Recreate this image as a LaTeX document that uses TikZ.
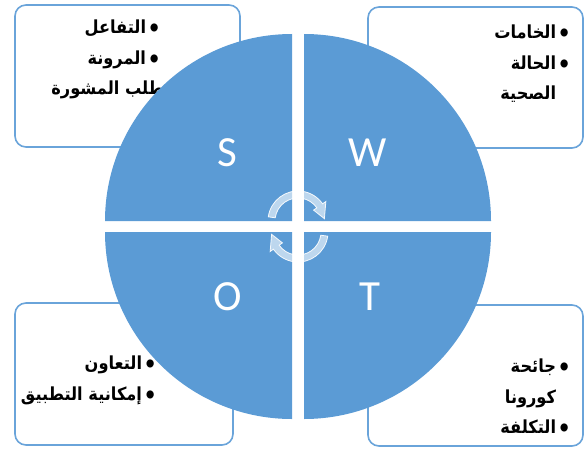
\documentclass[tikz,border=0pt]{standalone}
\usepackage{fontspec}
\setmainfont{Carlito}
\newfontfamily\arabicfont[Script=Arabic, FakeStretch=0.9]{DejaVu Sans}
\TeXXeTstate=1
\usetikzlibrary{positioning}
\definecolor{swotblue}{RGB}{91,155,213}
\definecolor{boxline}{RGB}{106,164,218}
\tikzset{
    quad/.style={fill=swotblue},
    letter/.style={text=white, inner sep=0pt, font=\fontsize{43}{43}\selectfont},
    box/.style={draw=boxline, line width=1.6pt, rounded corners=11pt, fill=white, inner sep=0pt},
    items/.style={align=right, inner sep=0pt, font=\arabicfont\bfseries\fontsize{18}{30.5}\selectfont},
    turnarrow/.style={fill=white, fill opacity=0.6, draw=white, draw opacity=0.9, line width=0.8pt}
}
\newcommand{\bul}{\raisebox{-3pt}{\fontsize{23}{23}\selectfont•}\kern1.5pt}

\begin{document}
\begin{tikzpicture}[x=1pt, y=1pt]
\useasboundingbox (0,0) rectangle (585,448);

% boxes behind the circle
\node[box, minimum width=225pt, minimum height=142pt] (boxs) at (127.5,372) {};
\node[box, minimum width=215pt, minimum height=141pt] (boxw) at (475.5,370.5) {};
\node[box, minimum width=218pt, minimum height=142pt] (boxo) at (124,74) {};
\node[box, minimum width=215pt, minimum height=141pt] (boxt) at (475.5,72.5) {};

\node[items, anchor=north east] (txts) at (161,428) {%
    \beginR\bul التفاعل\endR\\
    \beginR\bul المرونة\endR\\
    \beginR\bul طلب المشورة\endR\hspace*{-18pt}};
\node[items, anchor=north east] (txtw) at (571,423) {%
    \beginR\bul الخامات\endR\\
    \beginR\bul الحالة\endR\\
    \beginR\phantom{\bul}الصحية\endR};
\node[items, anchor=north east] (txto) at (157,92) {%
    \beginR\bul التعاون\endR\\
    \beginR\bul إمكانية التطبيق\endR};
\node[items, anchor=north east] (txtt) at (571,89) {%
    \beginR\bul جائحة\endR\\
    \beginR\phantom{\bul}كورونا\endR\\
    \beginR\bul التكلفة\endR};

% the four quarters
\fill[quad] (292,227) -- ++(180:187pt) arc[start angle=180, end angle=90, radius=187pt] -- cycle;
\fill[quad] (304,227) -- ++(90:187pt) arc[start angle=90, end angle=0, radius=187pt] -- cycle;
\fill[quad] (292,216) -- ++(270:187pt) arc[start angle=270, end angle=180, radius=187pt] -- cycle;
\fill[quad] (304,216) -- ++(0:187pt) arc[start angle=0, end angle=-90, radius=187pt] -- cycle;

\node[letter] (s) at (227,295) {S};
\node[letter] (w) at (368,295) {W};
\node[letter] (o) at (228,151) {O};
\node[letter] (t) at (370,151) {T};

% arrows in the middle
\draw[turnarrow, shift={(298,227)}] (172:30pt) arc[start angle=172, end angle=35, radius=30pt]
    -- (35:34pt) -- (5:26.5pt) -- (35:19pt) -- (35:23pt)
    arc[start angle=35, end angle=172, radius=23pt] -- cycle;
\draw[turnarrow, shift={(298,216)}, rotate=180] (172:30pt) arc[start angle=172, end angle=35, radius=30pt]
    -- (35:34pt) -- (5:26.5pt) -- (35:19pt) -- (35:23pt)
    arc[start angle=35, end angle=172, radius=23pt] -- cycle;
\end{tikzpicture}
\end{document}
